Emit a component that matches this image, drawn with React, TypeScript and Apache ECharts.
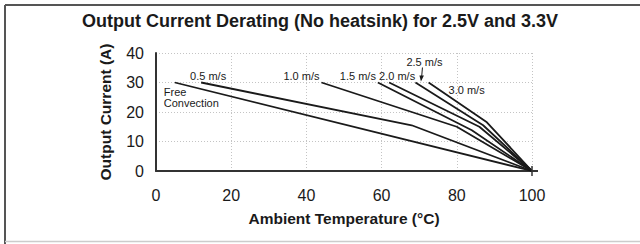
import React, { useEffect, useRef } from "react";
import * as echarts from "echarts";

const title = "Output Current Derating (No heatsink) for 2.5V and 3.3V";
const xName = "Ambient Temperature (°C)";
const yName = "Output Current (A)";
const xTicks = [0, 20, 40, 60, 80, 100];
const yTicks = [0, 10, 20, 30, 40];

const seriesNames = ["Free Convection", "0.5 m/s", "1.0 m/s", "1.5 m/s", "2.0 m/s", "2.5 m/s", "3.0 m/s"];
const freeConv: number[][] = [[5, 30], [100, 0]];
const ms05: number[][] = [[12, 30], [68, 15.5], [100, 0]];
const ms10: number[][] = [[44, 30], [80, 15], [100, 0]];
const ms15: number[][] = [[59, 30], [84, 13.8], [100, 0]];
const ms20: number[][] = [[62, 30], [86, 15], [100, 0]];
const ms25: number[][] = [[69, 30], [87, 15.5], [100, 0]];
const ms30: number[][] = [[72.5, 30], [88, 16.5], [100, 0]];
const allData = [freeConv, ms05, ms10, ms15, ms20, ms25, ms30];

// label text and pixel offset from each curve's starting point
const labelTexts = ["Free\nConvection", "0.5 m/s", "1.0 m/s", "1.5 m/s", "2.0 m/s", "2.5 m/s", "3.0 m/s"];
const labelOffsets = [[-11, 4], [7, -7], [-20, -7], [-20, -7], [8, -7], [9, -21], [38, 7]];

const FONT = "'Liberation Sans', Arial, Helvetica, sans-serif";

export default function App() {
  const ref = useRef<HTMLDivElement>(null);
  useEffect(() => {
    document.body.style.margin = "0";
    if (!ref.current) return;
    const chart = echarts.init(ref.current, undefined, { renderer: "svg" });
    const option: any = {
      animation: false,
      backgroundColor: "#ffffff",
      textStyle: { fontFamily: FONT },
      title: {
        text: title,
        left: "center",
        top: 7,
        textStyle: { fontFamily: FONT, fontSize: 18, fontWeight: "bold", color: "#1a1a1a" },
      },
      grid: { left: 156, right: 108, top: 53, bottom: 73 },
      xAxis: {
        type: "value",
        min: 0,
        max: 100,
        interval: 20,
        name: xName,
        nameLocation: "middle",
        nameGap: 39,
        nameTextStyle: { fontFamily: FONT, fontSize: 15.5, fontWeight: "bold", color: "#1a1a1a" },
        axisLine: { show: true, lineStyle: { color: "#333", width: 2 } },
        axisTick: { show: false },
        axisLabel: {
          fontFamily: FONT,
          fontSize: 16,
          color: "#1a1a1a",
          margin: 16,
          formatter: (v: number) => (xTicks.includes(v) ? String(v) : ""),
        },
        splitLine: { show: true, lineStyle: { color: "#c4c4c4", type: [1, 2], width: 1 } },
      },
      yAxis: {
        type: "value",
        min: 0,
        max: 40,
        interval: 10,
        name: yName,
        nameLocation: "middle",
        nameGap: 43,
        nameTextStyle: { fontFamily: FONT, fontSize: 15.5, fontWeight: "bold", color: "#1a1a1a" },
        axisLine: { show: true, lineStyle: { color: "#333", width: 2 } },
        axisTick: { show: false },
        axisLabel: {
          fontFamily: FONT,
          fontSize: 16,
          color: "#1a1a1a",
          margin: 12,
          formatter: (v: number) => (yTicks.includes(v) ? String(v) : ""),
        },
        splitLine: { show: true, lineStyle: { color: "#c4c4c4", type: [1, 2], width: 1 } },
      },
      series: allData.map((d, i) => ({
        name: seriesNames[i],
        type: "line",
        data: d,
        symbol: "none",
        lineStyle: { color: "#1a1a1a", width: 1.8 },
        z: 3,
      })),
    };
    chart.setOption(option);

    const graphics: any[] = [
      { type: "line", shape: { x1: 5, y1: 5, x2: 640, y2: 5 }, style: { stroke: "#555", lineWidth: 2 } },
      { type: "line", shape: { x1: 5, y1: 5, x2: 5, y2: 244 }, style: { stroke: "#555", lineWidth: 2 } },
      { type: "line", shape: { x1: 5, y1: 241.5, x2: 640, y2: 241.5 }, style: { stroke: "#ccc", lineWidth: 1.5 } },
    ];
    allData.forEach((d, i) => {
      const p = chart.convertToPixel({ gridIndex: 0 }, d[0]) as number[];
      const off = labelOffsets[i];
      const isFree = i === 0;
      graphics.push({
        type: "text",
        x: p[0] + off[0],
        y: p[1] + off[1],
        z: 10,
        style: {
          text: labelTexts[i],
          font: `11px ${FONT}`,
          fill: "#1a1a1a",
          align: isFree ? "left" : "center",
          verticalAlign: isFree ? "top" : "middle",
          lineHeight: 11,
        },
      });
    });
    // arrow for 2.5 m/s label
    const s25 = chart.convertToPixel({ gridIndex: 0 }, ms25[0]) as number[];
    graphics.push({
      type: "line",
      shape: { x1: s25[0] + 7, y1: s25[1] - 15, x2: s25[0] + 6, y2: s25[1] - 3 },
      style: { stroke: "#1a1a1a", lineWidth: 1 },
      z: 10,
    });
    graphics.push({
      type: "polygon",
      shape: { points: [[s25[0] + 4, s25[1] - 7], [s25[0] + 8.5, s25[1] - 7], [s25[0] + 5.5, s25[1] - 1]] },
      style: { fill: "#1a1a1a" },
      z: 10,
    });
    // + tick at the (100, 0) corner
    const c = chart.convertToPixel({ gridIndex: 0 }, [100, 0]) as number[];
    graphics.push({ type: "line", shape: { x1: c[0], y1: c[1] - 5, x2: c[0], y2: c[1] + 5 }, style: { stroke: "#333", lineWidth: 1.5 }, z: 10 });
    graphics.push({ type: "line", shape: { x1: c[0], y1: c[1], x2: c[0] + 6, y2: c[1] }, style: { stroke: "#333", lineWidth: 2 }, z: 10 });

    chart.setOption({ graphic: graphics });
    return () => chart.dispose();
  }, []);
  return <div ref={ref} style={{ width: 640, height: 244 }} />;
}
